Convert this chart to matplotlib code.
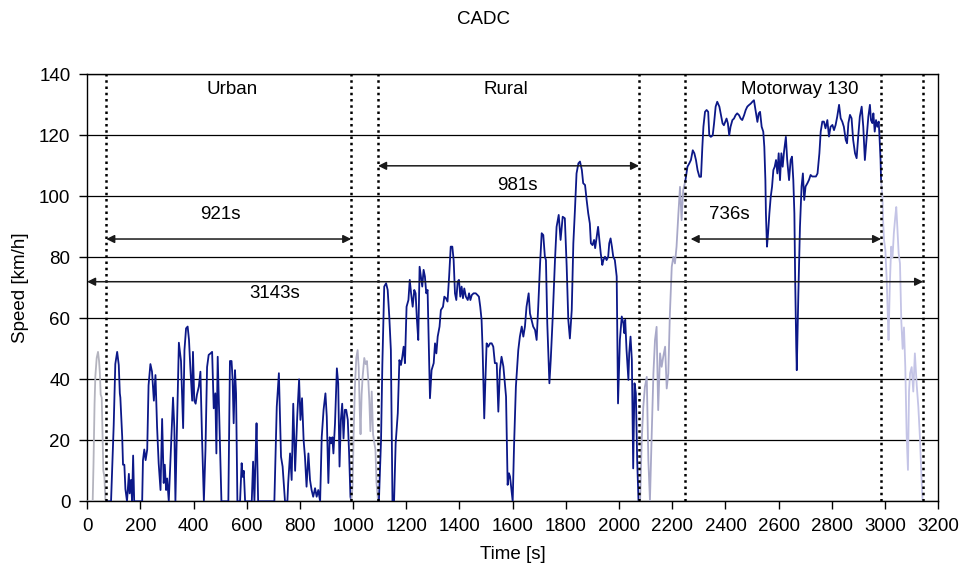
import matplotlib.pyplot as plt

plt.rcParams['font.family'] = ['Liberation Sans', 'DejaVu Sans']
plt.rcParams['font.size'] = 13.5

# speed trace, (time s, speed km/h)
start = [(0, 0), (21, 0), (24, 12), (28, 32), (31, 41), (36, 47), (41, 49), (45, 46),
         (48, 42), (51, 35), (55, 34), (58, 22), (61, 10), (65, 8), (69, 0), (72, 0)]

urban = [(72, 0), (90, 0), (100, 25), (106, 45), (113, 49), (119, 44.7), (123, 35.4),
         (125, 34), (132, 21), (135, 12), (140, 12), (144, 4), (150, 0), (157, 9),
         (160, 2.6), (165, 7), (169, 0), (173, 15), (177, 0), (207, 0), (210, 13.5),
         (215, 17), (220, 13.5), (226, 17), (231, 38), (238, 45), (244, 42.5), (251, 33),
         (257, 41.4), (263, 24.5), (269, 12.5), (276, 3.7), (282, 27), (288, 6), (292, 12),
         (297, 3.7), (301, 7.5), (307, 0), (323, 34), (328, 24), (332, 0), (336, 17),
         (345, 52), (353, 46), (361, 24), (366, 49.6), (372, 56.7), (378, 57.3), (383, 53),
         (388, 44), (395, 33), (398, 49), (403, 33), (408, 32), (413, 35), (420, 37.6),
         (426, 42.5), (432, 21), (439, 0), (445, 17), (451, 44), (457, 48), (464, 48.5),
         (470, 49), (476, 30.5), (482, 35.4), (486, 15.7), (491, 47.4), (499, 21), (505, 0),
         (531, 0), (537, 46), (543, 46), (547, 40), (551, 25.6), (556, 43), (560, 35.4),
         (565, 0), (575, 0), (581, 12.5), (585, 8), (589, 10), (594, 0), (619, 0),
         (624, 13), (629, 0), (634, 17), (637, 25.6), (643, 0), (704, 0), (713, 31),
         (721, 42), (729, 14.6), (735, 11.4), (744, 0), (753, 0), (756, 6), (763, 15.7),
         (769, 7), (775, 32), (782, 10), (785, 17), (790, 27.8), (797, 40), (802, 26.7),
         (808, 33.8), (814, 20), (819, 14.6), (825, 4.8), (832, 15.7), (838, 7), (844, 3.7),
         (850, 1.5), (857, 4.3), (863, 1.5), (869, 3.7), (876, 0), (882, 21), (889, 30),
         (896, 35.4), (901, 27.8), (907, 6), (912, 21), (917, 19), (922, 21), (926, 15.7),
         (932, 25.6), (939, 43.6), (944, 38.7), (949, 11.4), (954, 26.7), (959, 32),
         (964, 20.6), (969, 30), (974, 30), (980, 26.7), (985, 15.7), (990, 1.5), (993, 0)]

link1 = [(993, 0), (998, 5), (1002, 22), (1007, 38), (1012, 47), (1017, 49.6), (1021, 44),
         (1025, 30), (1028, 22), (1032, 35), (1036, 41), (1042, 47), (1047, 45), (1052, 46),
         (1057, 40), (1061, 33), (1065, 23), (1070, 36), (1075, 22), (1080, 19), (1084, 17),
         (1088, 6), (1094, 0)]

rural = [(1094, 0), (1097, 0), (1105, 20), (1110, 45), (1117, 70.4), (1124, 71.5),
         (1130, 69.3), (1136, 60.6), (1142, 49.6), (1148, 0), (1154, 0), (1160, 19),
         (1168, 28.9), (1174, 46.3), (1180, 44.7), (1185, 47.4), (1190, 50.7), (1195, 45.3),
         (1201, 63.8), (1208, 66), (1213, 72.6), (1218, 68.2), (1224, 63.8), (1230, 69.3),
         (1235, 68.2), (1240, 59.5), (1245, 52.9), (1250, 76.9), (1255, 73.7), (1260, 70.4),
         (1265, 75.9), (1270, 73.7), (1275, 68.2), (1280, 69.3), (1285, 49.6), (1289, 33.8),
         (1295, 43), (1303, 45.3), (1308, 51.8), (1313, 48.5), (1318, 54), (1325, 57.3),
         (1330, 62.7), (1338, 63.8), (1343, 67.1), (1349, 66.6), (1355, 65.5), (1361, 73.7),
         (1367, 83.5), (1373, 83.5), (1378, 79.1), (1383, 68.2), (1388, 66), (1393, 72),
         (1398, 72.6), (1403, 67.1), (1408, 70.4), (1413, 66.6), (1418, 69.8), (1424, 67.1),
         (1431, 66), (1436, 68.2), (1441, 66), (1446, 67.6), (1453, 68.2), (1461, 68.2),
         (1468, 67.6), (1473, 67.1), (1478, 63.8), (1483, 59.5), (1487, 49.6), (1491, 34.3),
         (1493, 27.2), (1497, 38.7), (1502, 51.8), (1508, 50.7), (1515, 51.8), (1521, 51.8),
         (1527, 50.7), (1533, 45.3), (1540, 45.3), (1546, 29.4), (1552, 43), (1558, 47.4),
         (1565, 44.2), (1575, 34.3), (1581, 5.4), (1586, 9.2), (1590, 8.1), (1600, 0),
         (1605, 17.9), (1612, 37.6), (1621, 49.6), (1627, 54), (1634, 57.3), (1640, 54),
         (1646, 57.3), (1652, 63.8), (1660, 68.2), (1665, 61.6), (1671, 59.5), (1677, 57.3),
         (1684, 56.2), (1690, 52.9), (1696, 63.8), (1703, 78), (1709, 87.9), (1715, 87.3),
         (1721, 80.2), (1725, 79.1), (1730, 58.4), (1738, 38.7), (1743, 46.3), (1750, 59.5),
         (1759, 79.1), (1765, 90), (1773, 93.9), (1780, 85.7), (1788, 93.3), (1796, 92.8),
         (1803, 76.9), (1809, 59.5), (1815, 53.4), (1822, 62.7), (1828, 84.6), (1834, 95.5),
         (1840, 107.5), (1847, 110.8), (1853, 111.4), (1860, 108.6), (1865, 104.3),
         (1872, 103.7), (1878, 98.8), (1884, 94.4), (1890, 91.1), (1894, 84.6), (1900, 84),
         (1906, 85.7), (1910, 83), (1916, 86.8), (1921, 90), (1926, 85.7), (1931, 81.3),
         (1937, 77.5), (1941, 79.1), (1947, 80.2), (1953, 79.1), (1959, 80.2), (1963, 84.6),
         (1968, 86.2), (1973, 83.5), (1978, 80.2), (1984, 79.1), (1991, 73.7), (1996, 32.1),
         (2003, 52.9), (2010, 60.6), (2016, 58.4), (2020, 55.1), (2023, 59.5), (2028, 49.6),
         (2035, 39.8), (2038, 48.5), (2043, 54), (2048, 46.3), (2053, 10.8), (2058, 38.7),
         (2063, 35.4), (2068, 13.6), (2073, 0), (2075, 0)]

link2 = [(2075, 0), (2079, 0), (2085, 20), (2091, 31), (2097, 37.5), (2104, 40.8),
         (2110, 13.5), (2116, 0.3), (2122, 20), (2129, 41.9), (2135, 52.9), (2141, 57.2),
         (2147, 29.9), (2154, 48.5), (2160, 44.1), (2166, 47.4), (2173, 50.7), (2179, 37),
         (2185, 41.9), (2191, 61.6), (2198, 76.9), (2204, 80.2), (2210, 78), (2216, 83.5),
         (2223, 94.4), (2229, 103.1), (2235, 92.2), (2241, 102), (2249, 105)]

motorway = [(2249, 105), (2257, 109.7), (2264, 110.8), (2270, 111.9), (2277, 115.1),
            (2283, 114.1), (2289, 111.9), (2295, 108.6), (2302, 106.4), (2308, 106.4),
            (2313, 116.2), (2317, 122.8), (2323, 127.7), (2329, 128.3), (2335, 127.7),
            (2339, 120), (2345, 119.5), (2352, 120), (2357, 123.9), (2363, 129.4),
            (2369, 131), (2377, 129.4), (2383, 126.6), (2389, 123.9), (2394, 123.3),
            (2399, 124.4), (2404, 125.5), (2409, 123.9), (2414, 120), (2419, 122.8),
            (2426, 125), (2432, 125.5), (2438, 126.6), (2444, 127.2), (2451, 126.6),
            (2457, 125.5), (2463, 125), (2470, 126.6), (2476, 128.3), (2482, 129.4),
            (2488, 129.9), (2495, 130.4), (2501, 131), (2507, 131.5), (2513, 128.3),
            (2520, 124.4), (2525, 127.2), (2530, 127.7), (2536, 122.8), (2542, 121.2),
            (2546, 116.2), (2550, 105.3), (2552, 94.4), (2556, 83.5), (2560, 87.8),
            (2565, 94.4), (2570, 99.8), (2575, 103.1), (2580, 108.6), (2585, 109.7),
            (2590, 111.9), (2595, 107.5), (2600, 114.1), (2605, 105.3), (2610, 114.1),
            (2615, 109.7), (2620, 114.6), (2627, 119.5), (2632, 111.9), (2639, 105.3),
            (2645, 111.9), (2650, 113), (2655, 105.3), (2659, 94.4), (2662, 72.5),
            (2666, 50.7), (2668, 43), (2674, 68.2), (2680, 90), (2686, 103.2), (2691, 107.5),
            (2696, 98.8), (2701, 103.2), (2708, 104.3), (2714, 105.4), (2720, 107),
            (2726, 106.5), (2733, 106.5), (2740, 106.5), (2746, 107.5), (2753, 114.1),
            (2758, 121.2), (2764, 124.5), (2770, 124.5), (2776, 122.3), (2783, 125),
            (2789, 119.6), (2795, 122.8), (2802, 123.4), (2808, 121.7), (2814, 123.4),
            (2820, 126.1), (2827, 130), (2833, 125.6), (2839, 124.5), (2845, 122.8),
            (2852, 118.5), (2857, 117.4), (2862, 124), (2868, 126.7), (2874, 125.6),
            (2880, 118.5), (2887, 114.1), (2893, 112.5), (2899, 119.6), (2905, 126.1),
            (2912, 129.4), (2918, 122.8), (2924, 111.9), (2931, 119.6), (2937, 126.1),
            (2943, 130), (2947, 125), (2952, 124), (2956, 127.2), (2961, 121.2), (2966, 125),
            (2971, 122.8), (2976, 124.5), (2979, 119.6), (2983, 111.9), (2985, 105)]

finish = [(2985, 105), (2990, 100), (2993, 91), (2996, 85.7), (3001, 82.4), (3006, 73),
          (3010, 61.6), (3013, 52.9), (3018, 71.5), (3023, 83.5), (3028, 80), (3033, 88),
          (3038, 93), (3042, 96.5), (3046, 90), (3051, 81.3), (3056, 78), (3061, 59),
          (3066, 50), (3071, 57), (3076, 44), (3081, 22), (3086, 10.3), (3090, 36),
          (3094, 42), (3100, 44), (3106, 36), (3112, 48.5), (3119, 38), (3125, 31),
          (3131, 21), (3137, 7.5), (3141, 0), (3143, 0)]

# phase borders and durations
borders = [72, 993, 1094, 2075, 2249, 2985, 3143]
phases = ['Urban', 'Rural', 'Motorway 130']
spans = [(72, 993, 86, '921s'), (1094, 2075, 110, '981s'),
         (2269, 2985, 86, '736s'), (0, 3143, 72, '3143s')]

fig = plt.figure(figsize=(9.7, 5.73), dpi=100)
ax = fig.add_axes([0.0898, 0.1251, 0.8775, 0.7452])

dark = '#0c1888'
segments = [(start, '#b4b4be'), (urban, dark), (link1, '#b0b0c6'), (rural, dark),
            (link2, '#a8a8c8'), (motorway, dark), (finish, '#c4c4e6')]
for seg, col in segments:
    t, v = zip(*seg)
    ax.plot(t, v, color=col, lw=1.3, zorder=3)

ax.vlines(borders, 0, 140, colors='black', linestyles=(0, (1, 1.5)), lw=1.8, zorder=4)

for x1, x2, y, lab in spans:
    ax.annotate('', xy=(x2, y), xytext=(x1, y),
                arrowprops=dict(arrowstyle='<|-|>', color='#1a1a1a', lw=1.1,
                                mutation_scale=12, shrinkA=0, shrinkB=0), zorder=5)

ax.text(544, 135, phases[0], ha='center', va='center')
ax.text(1574, 135, phases[1], ha='center', va='center')
ax.text(2680, 135, phases[2], ha='center', va='center')
ax.text(500, 94, spans[0][3], ha='center', va='center')
ax.text(1619, 103.7, spans[1][3], ha='center', va='center')
ax.text(2414, 94, spans[2][3], ha='center', va='center')
ax.text(706, 68.2, spans[3][3], ha='center', va='center')

ax.set_xlim(0, 3200)
ax.set_ylim(0, 140)
ax.set_xticks(range(0, 3201, 200))
ax.set_yticks(range(0, 141, 20))
ax.yaxis.grid(True, color='black', lw=0.9)
ax.set_axisbelow(True)
ax.tick_params(direction='out', length=6, width=1, pad=6)
for s in ax.spines.values():
    s.set_linewidth(1)

ax.set_xlabel('Time [s]', labelpad=8)
ax.set_ylabel('Speed [km/h]', labelpad=7)
fig.text(484 / 970, 1 - 20 / 573, 'CADC', ha='center', va='center')

fig.savefig('out.png', dpi=100)
